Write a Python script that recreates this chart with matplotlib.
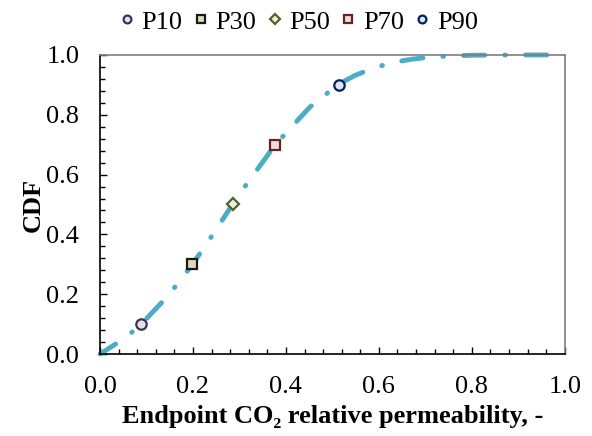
import matplotlib
matplotlib.use("Agg")
import matplotlib.pyplot as plt
from matplotlib.ticker import MultipleLocator

# curve
cdf_x = [0.0, 0.03, 0.062, 0.088, 0.146, 0.198, 0.242, 0.285, 0.308, 0.377,
         0.451, 0.513, 0.548, 0.586, 0.630, 0.672, 0.713, 0.748, 0.80, 0.90, 1.0]
cdf_y = [0.0, 0.03, 0.064, 0.099, 0.194, 0.298, 0.398, 0.50, 0.552, 0.70,
         0.825, 0.902, 0.931, 0.955, 0.975, 0.986, 0.993, 0.996, 0.999, 1.0, 1.0]

# percentile points
p_names = ["P10", "P30", "P50", "P70", "P90"]
p_x = [0.088, 0.198, 0.286, 0.377, 0.514]
p_y = [0.1, 0.3, 0.5, 0.7, 0.9]
p_marker = ["o", "s", "D", "s", "o"]
p_face = ["#E4DFEC", "#DDD9C3", "#EBF1DE", "#F2DCDB", "#DCE6F2"]
p_edge = ["#3F3151", "#1D1B10", "#4F6228", "#632523", "#002060"]

plt.rcParams["font.family"] = ["Liberation Serif", "DejaVu Serif"]

fig = plt.figure(figsize=(5.92, 4.36), dpi=100)
ax = fig.add_axes([0.169, 0.188, 0.785, 0.686])

ax.plot(cdf_x, cdf_y, color="#4BACC6", lw=3.5, clip_on=False,
        linestyle=(0.6, (4.4, 4.1, 0.15, 4.1)),
        dash_capstyle="round", solid_capstyle="round", zorder=2)

for i in range(len(p_names)):
    ms = 6.5 if p_marker[i] == "D" else 7.5
    ax.plot(p_x[i], p_y[i], linestyle="none", marker=p_marker[i], ms=ms,
            mfc=p_face[i], mec=p_edge[i], mew=1.6, label=p_names[i],
            zorder=3, clip_on=False)

ax.set_xlim(0, 1)
ax.set_ylim(0, 1)
ax.xaxis.set_major_locator(MultipleLocator(0.2))
ax.xaxis.set_minor_locator(MultipleLocator(0.04))
ax.yaxis.set_major_locator(MultipleLocator(0.2))
ax.yaxis.set_minor_locator(MultipleLocator(0.04))
ax.xaxis.set_major_formatter(lambda v, p: f"{v:.1f}")
ax.yaxis.set_major_formatter(lambda v, p: f"{v:.1f}")

ax.tick_params(axis="both", which="both", direction="in", top=False, right=False,
               labelsize=19, width=1, color="black")
ax.tick_params(axis="both", which="major", length=5)
ax.tick_params(axis="both", which="minor", length=3.5)
ax.tick_params(axis="x", which="major", pad=16)
ax.tick_params(axis="y", which="major", pad=15)

for s in ["left", "bottom"]:
    ax.spines[s].set_color("black")
    ax.spines[s].set_linewidth(1.2)
for s in ["top", "right"]:
    ax.spines[s].set_color("#7F7F7F")
    ax.spines[s].set_linewidth(1.2)

ax.set_xlabel("Endpoint CO\u2082 relative permeability, -", fontsize=19,
              fontweight="bold", labelpad=5)
ax.set_ylabel("CDF", fontsize=19, fontweight="bold", labelpad=1)

fig.legend(loc="center", bbox_to_anchor=(0.505, 0.95), ncol=5, frameon=False,
           fontsize=19, handlelength=0.5, handletextpad=0.3, columnspacing=0.45,
           markerscale=0.75, borderaxespad=0)

fig.savefig("out.png", dpi=100)
